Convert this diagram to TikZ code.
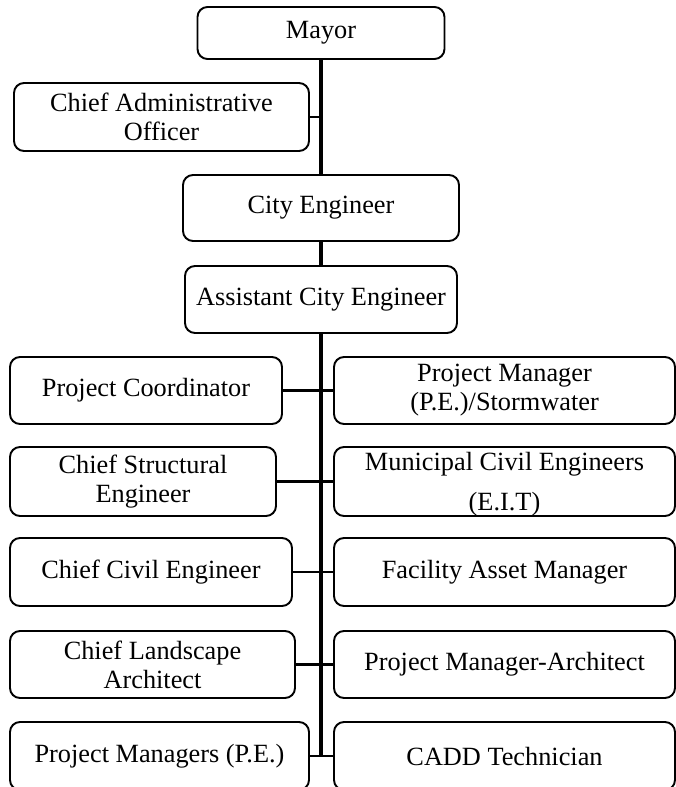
\documentclass[tikz,border=0pt]{standalone}
\usepackage{fontspec}
\setmainfont{Liberation Serif}
\begin{document}
\begin{tikzpicture}[x=1bp,y=-1bp,
  txt/.style={align=center, inner sep=0pt, font=\fontsize{26.3bp}{29bp}\selectfont},
  box/.style={txt, draw, rounded corners=10bp, line width=1.9bp},
  spine/.style={line width=4bp},
  stub/.style={line width=2.7bp}]
\useasboundingbox[fill=white] (0,0) rectangle (676,787);
\node[box, minimum width=247bp, minimum height=52bp] (mayor) at (321,33) {Mayor};
\node[box, minimum width=295bp, minimum height=68bp] (cao) at (161.5,117) {Chief Administrative\\Officer};
\node[box, minimum width=276bp, minimum height=66bp] (ce) at (321,208) {City Engineer};
\node[box, minimum width=272bp, minimum height=67bp] (ace) at (321,299.5) {Assistant City Engineer};
% rows
\node[box, minimum width=272bp, minimum height=67bp] (l1) at (146,390.5) {Project Coordinator};
\node[box, minimum width=341bp, minimum height=67bp] (r1) at (504.5,390.5) {Project Manager\\(P.E.)/Stormwater};
\node[box, minimum width=266bp, minimum height=69bp] (l2) at (143,481.5) {Chief Structural\\Engineer};
\node[box, minimum width=341bp, minimum height=69bp] (r2) at (504.5,481.5) {};
\node[txt] (r2t) at ([yshift=-3bp]r2.center) {Municipal Civil Engineers\\[11bp](E.I.T)};
\node[box, minimum width=282bp, minimum height=68bp] (l3) at (151,572) {Chief Civil Engineer};
\node[box, minimum width=341bp, minimum height=68bp] (r3) at (504.5,572) {Facility Asset Manager};
\node[box, minimum width=285bp, minimum height=67bp] (l4) at (152.5,664.5) {Chief Landscape\\Architect};
\node[box, minimum width=341bp, minimum height=67bp] (r4) at (504.5,664.5) {Project Manager-Architect};
\node[box, minimum width=299bp, minimum height=68bp] (l5) at (159.5,756) {Project Managers (P.E.)};
\node[box, minimum width=341bp, minimum height=68bp] (r5) at (504.5,756) {CADD Technician};
\coordinate (caoj) at (321,117);
\coordinate (spineend) at (321,757);
% connectors
\draw[spine] (mayor.south) -- (ce.north);
\draw[stub] (cao.east) -- (caoj);
\draw[spine] (ce.south) -- (ace.north);
\draw[spine] (ace.south) -- (spineend);
\draw[stub] (l1.east) -- (r1.west);
\draw[stub] (l2.east) -- (r2.west);
\draw[stub] (l3.east) -- (r3.west);
\draw[stub] (l4.east) -- (r4.west);
\draw[stub] (l5.east) -- (r5.west);
\end{tikzpicture}
\end{document}
